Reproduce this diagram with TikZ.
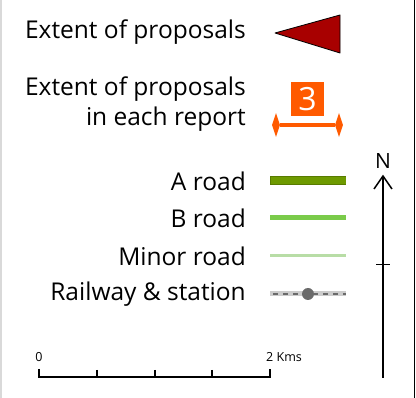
\documentclass[tikz,border=0pt]{standalone}
\usepackage{fontspec}
\setmainfont{Open Sans}
\usetikzlibrary{shapes.geometric}
\definecolor{triRed}{HTML}{A80000}
\definecolor{repOrange}{HTML}{FF5A00}
\definecolor{aRoad}{HTML}{6E9A00}
\definecolor{bRoad}{HTML}{7ACB4A}
\definecolor{minorRoad}{HTML}{B8DDA6}
\definecolor{railGrey}{HTML}{6A6A6A}
\begin{document}
\begin{tikzpicture}[x=1pt,y=-1pt]
\tikzset{
  keytext/.style={anchor=east,inner sep=0pt,font=\fontsize{24.5}{30}\selectfont},
  smalltext/.style={inner sep=0pt,font=\fontsize{12.5}{14}\selectfont},
  diam/.style={diamond,fill=repOrange,inner sep=0pt,minimum width=8pt,minimum height=24pt}
}
\useasboundingbox (0,0) rectangle (416,398);
% frame
\draw [gray!30,line width=1.2] (1,0) -- (1,398);
\draw [black,line width=1.5] (414.5,0) -- (414.5,398);
% extent of proposals
\node [keytext] (extent) at (246,32) {Extent of proposals};
\draw [black,fill=triRed,line width=0.8,line join=round] (275,33) -- (340,15) -- (340,53) -- cycle;
% each report
\node [keytext,align=right] (report) at (246,104) {Extent of proposals\\in each report};
\node [fill=repOrange,text=white,minimum width=33pt,minimum height=34pt,inner sep=0pt,
  font=\fontsize{32}{32}\selectfont] (num) at (307.5,99) {3};
\node [diam] (dl) at (276,125) {};
\node [diam] (dr) at (339,125) {};
\draw [repOrange,line width=4] (dl.east) -- (dr.west);
% roads
\node [keytext] (arl) at (246,181) {A road};
\draw [aRoad!80!black,line width=9] (270,181) -- (346,181);
\draw [aRoad,line width=7] (270.5,181) -- (345.5,181);
\node [keytext] (brl) at (246,218) {B road};
\draw [bRoad,line width=5] (270,218) -- (346,218);
\node [keytext] (mrl) at (246,256) {Minor road};
\draw [minorRoad,line width=3] (270,256) -- (346,256);
\node [keytext] (rwl) at (246,294) {Railway \& station};
\draw [gray!40,line width=5] (270,294) -- (346,294);
\draw [railGrey,line width=2.5,dash pattern=on 5 off 5] (273,294) -- (346,294);
\fill [railGrey] (308,294) circle (6);
% north arrow
\node [font=\fontsize{21}{21}\selectfont,inner sep=0pt] (north) at (383,161) {N};
\coordinate (nTop) at (383,176);
\coordinate (nBot) at (383,378);
\draw [black,line width=1.5] (nBot) -- (nTop);
\draw [black,line width=1.5] (374,189) -- (nTop) -- (392,189);
\draw [black,line width=0.8] (376,264) -- (390,264);
% scale bar
\draw [black,line width=2] (39,369) -- (39,377) -- (270,377) -- (270,369);
\foreach \x in {97,155,212}
  \draw [black,line width=1.5] (\x,370) -- (\x,377);
\node [smalltext] (zero) at (39,357) {0};
\node [smalltext,anchor=west] (kms) at (266,357) {2 Kms};
\end{tikzpicture}
\end{document}
